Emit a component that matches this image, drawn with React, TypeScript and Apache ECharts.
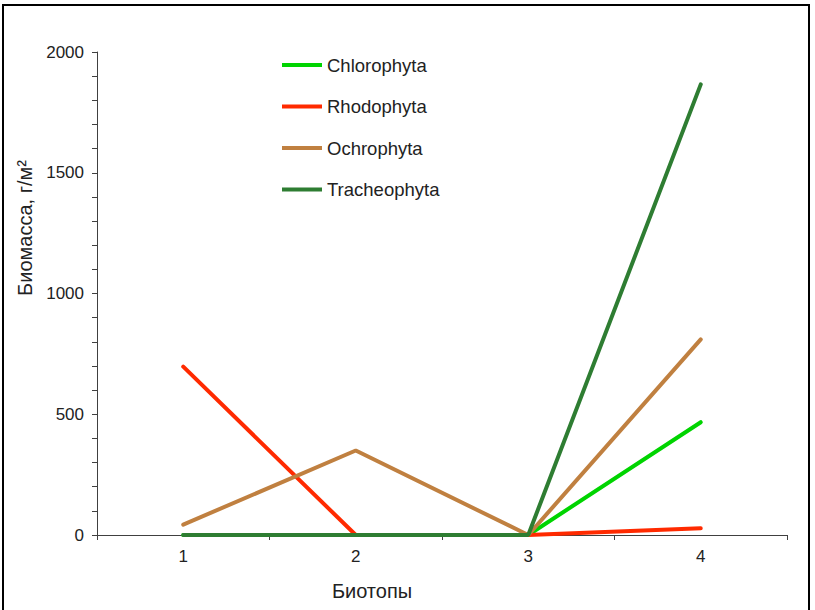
import React, { useEffect, useRef } from "react";
import * as echarts from "echarts";

const categories = ["1", "2", "3", "4"];
const chlorophyta = [0, 0, 0, 467];
const rhodophyta = [697, 0, 0, 28];
const ochrophyta = [43, 350, 0, 810];
const tracheophyta = [0, 0, 0, 1866];
const seriesNames = ["Chlorophyta", "Rhodophyta", "Ochrophyta", "Tracheophyta"];
const seriesColors = ["#00D400", "#FF2A00", "#C08040", "#2E7D32"];
const seriesData = [chlorophyta, rhodophyta, ochrophyta, tracheophyta];

const FONT = "'Liberation Sans', Arial, sans-serif";

export default function App() {
  const ref = useRef<HTMLDivElement>(null);
  useEffect(() => {
    if (!ref.current) return;
    const chart = echarts.init(ref.current, null, { renderer: "svg" });
    chart.setOption({
      animation: false,
      backgroundColor: "#ffffff",
      textStyle: { fontFamily: FONT },
      grid: { left: 97, top: 52, right: 28, bottom: 75 },
      legend: {
        orient: "vertical",
        left: 282,
        top: 55,
        padding: 0,
        icon: "rect",
        itemWidth: 40,
        itemHeight: 4,
        itemGap: 21.5,
        textStyle: { fontSize: 18.5, color: "#222", fontFamily: FONT, lineHeight: 20 },
        data: seriesNames,
      },
      xAxis: {
        type: "category",
        data: categories,
        boundaryGap: true,
        axisLine: { lineStyle: { color: "#404040", width: 1 } },
        axisTick: { show: true, length: 5, lineStyle: { color: "#404040" } },
        axisLabel: { fontSize: 17, color: "#222", margin: 13, fontFamily: FONT },
      },
      yAxis: {
        type: "value",
        min: 0,
        max: 2000,
        interval: 500,
        axisLine: { show: true, lineStyle: { color: "#404040", width: 1 } },
        axisTick: { show: true, length: 5, lineStyle: { color: "#404040" } },
        minorTick: { show: true, splitNumber: 5, length: 5, lineStyle: { color: "#404040" } },
        splitLine: { show: false },
        axisLabel: {
          fontSize: 17,
          color: "#222",
          margin: 13,
          fontFamily: FONT,
          formatter: (v: number) => String(v),
        },
      },
      graphic: [
        {
          type: "rect",
          shape: { x: 3, y: 5, width: 806, height: 620 },
          style: { fill: "none", stroke: "#000", lineWidth: 2 },
          z: 100,
        },
        {
          type: "text",
          x: 372,
          y: 591,
          style: {
            text: "Биотопы",
            fontSize: 20,
            fill: "#222",
            fontFamily: FONT,
            align: "center",
            verticalAlign: "middle",
          },
        },
        {
          type: "text",
          x: 25,
          y: 228,
          rotation: Math.PI / 2,
          style: {
            text: "Биомасса, г/м²",
            fontSize: 20,
            fill: "#222",
            fontFamily: FONT,
            align: "center",
            verticalAlign: "middle",
          },
        },
      ],
      series: seriesNames.map((name, i) => ({
        name,
        type: "line",
        data: seriesData[i],
        showSymbol: false,
        symbol: "none",
        lineStyle: { color: seriesColors[i], width: 4, cap: "round" },
        itemStyle: { color: seriesColors[i] },
        z: 2 + i,
      })),
    });
    return () => chart.dispose();
  }, []);
  return <div ref={ref} style={{ width: 815, height: 610, position: "absolute", left: 0, top: 0 }} />;
}
